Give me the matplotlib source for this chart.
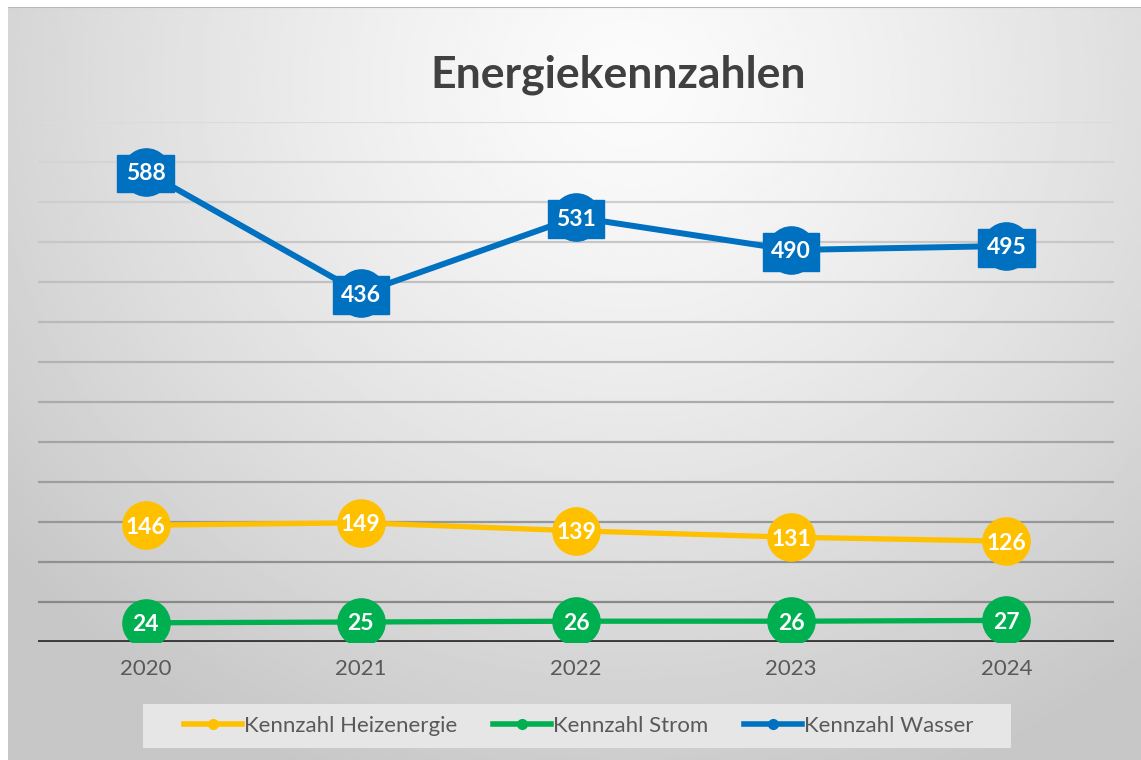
import numpy as np
import matplotlib
matplotlib.use('Agg')
import matplotlib.pyplot as plt
from matplotlib.lines import Line2D
from matplotlib.patches import Rectangle

plt.rcParams['font.family'] = ['Lato', 'DejaVu Sans']

# --- Daten ---
years = ['2020', '2021', '2022', '2023', '2024']
heizenergie = [146, 149, 139, 131, 126]
strom = [24, 25, 26, 26, 27]
wasser = [588, 436, 531, 490, 495]
series_names = ['Kennzahl Heizenergie', 'Kennzahl Strom', 'Kennzahl Wasser']

c_gelb = '#FFC000'
c_gruen = '#00B050'
c_blau = '#0070C0'

W, H = 1141, 760
fig = plt.figure(figsize=(W / 100, H / 100), dpi=100)
fig.patch.set_facecolor('white')

# Hintergrund mit radialem Verlauf (hell oben mittig, grau am Rand)
bg = fig.add_axes([8 / W, 0, 1 - 8 / W, 1 - 7 / H], zorder=0)
gx, gy = np.meshgrid(np.linspace(0, 1, 400), np.linspace(0, 1, 300))
r = np.sqrt(((gx - 0.55) / 0.75) ** 2 + ((gy - 0.1) / 1.05) ** 2)
grau = np.clip(0.985 - 0.22 * r ** 1.3, 0.78, 1)
bg.imshow(grau, cmap='gray', vmin=0, vmax=1, aspect='auto', extent=[0, 1, 0, 1], origin='upper')
bg.axhline(1, color='#b8b8b8', lw=1.5)
bg.set_axis_off()

# Diagrammfläche
ax = fig.add_axes([38 / W, (H - 642) / H, 1076 / W, 520 / H], zorder=1)
ax.patch.set_alpha(0)
ax.set_xlim(-0.5, 4.5)
ax.set_ylim(0, 650)
for s in ax.spines.values():
    s.set_visible(False)
ax.set_yticks([])
x = np.arange(len(years))
ax.set_xticks(x)
ax.set_xticklabels(years, fontsize=16, color='#595959')
ax.tick_params(axis='x', length=0, pad=12)

# Gitterlinien, oben heller, unten dunkler
stufen = np.arange(50, 651, 50)
for v in stufen:
    t = 1 - v / 650
    g = 0.86 - 0.35 * t
    ax.axhline(v, color=(g, g, g), lw=1.6, zorder=1)
ax.axhline(0, color='#3a3a3a', lw=2.8, zorder=2)

# Linien
ax.plot(x, heizenergie, color=c_gelb, lw=3.8, marker='o', ms=34, mec=c_gelb, zorder=3)
ax.plot(x, strom, color=c_gruen, lw=3.8, marker='o', ms=34, mec=c_gruen, zorder=3)
ax.plot(x, wasser, color=c_blau, lw=4.3, marker='o', ms=34, mec=c_blau, zorder=3)

for xi, v in zip(x, heizenergie):
    ax.text(xi, v, str(v), ha='center', va='center_baseline', color='white',
            fontsize=16.5, fontweight='bold', zorder=5)
for xi, v in zip(x, strom):
    ax.text(xi, v, str(v), ha='center', va='center_baseline', color='white',
            fontsize=16.5, fontweight='bold', zorder=5)
for xi, v in zip(x, wasser):
    ax.text(xi, v, str(v), ha='center', va='center_baseline', color='white',
            fontsize=16.5, fontweight='bold', zorder=5,
            bbox=dict(boxstyle='square,pad=0.36', fc=c_blau, ec=c_blau))

# Titel
fig.text(618 / W, 1 - 75 / H, 'Energiekennzahlen', ha='center', va='center',
         fontsize=32, fontweight='bold', color='#404040')

# Legende
fig.patches.append(Rectangle((143 / W, (H - 748) / H), 868 / W, 44 / H,
                             transform=fig.transFigure, fc='#e6e6e6', ec='none', zorder=1))
handles = [Line2D([0], [0], color=c, lw=4, marker='o', ms=7)
           for c in (c_gelb, c_gruen, c_blau)]
leg = fig.legend(handles, series_names, loc='center', ncol=3,
                 bbox_to_anchor=(579 / W, 1 - 726 / H), frameon=False,
                 fontsize=16, handlelength=2.6, handletextpad=0.1,
                 columnspacing=1.6, borderpad=0.3)
for txt in leg.get_texts():
    txt.set_color('#595959')

plt.savefig('out.png', dpi=100)
